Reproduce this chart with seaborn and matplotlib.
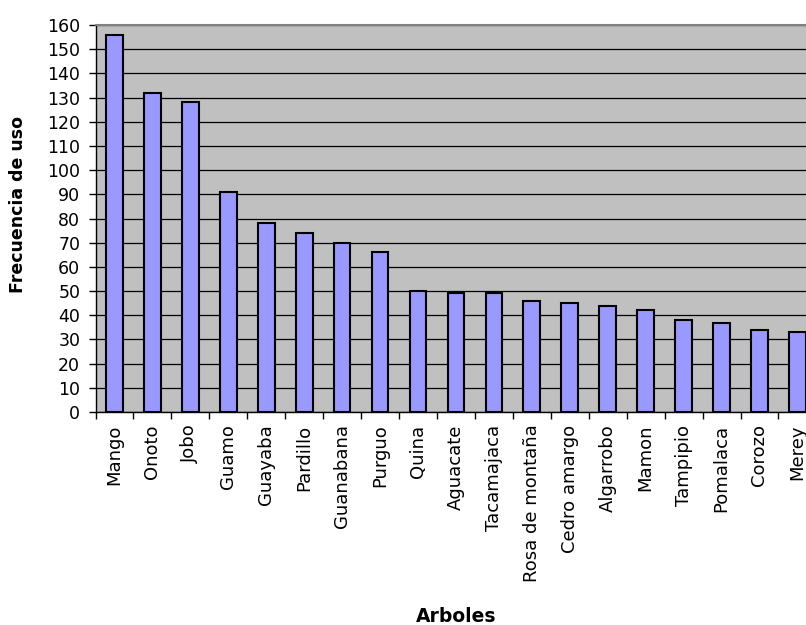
import matplotlib
matplotlib.use("Agg")
import matplotlib.pyplot as plt
import seaborn as sns
import pandas as pd

# Trees and how often each one is used
arboles = ["Mango", "Onoto", "Jobo", "Guamo", "Guayaba", "Pardillo", "Guanabana",
           "Purguo", "Quina", "Aguacate", "Tacamajaca", "Rosa de montaña",
           "Cedro amargo", "Algarrobo", "Mamon", "Tampipio", "Pomalaca",
           "Corozo", "Merey"]
frecuencia = [156, 132, 128, 91, 78, 74, 70, 66, 50, 49, 49, 46, 45, 44, 42,
              38, 37, 34, 33]
y_ticks = list(range(0, 161, 10))

df = pd.DataFrame({"Arboles": arboles, "Frecuencia de uso": frecuencia})

sns.set_theme(style="white")
plt.rcParams["font.family"] = ["DejaVu Sans"]
plt.rcParams["text.color"] = "black"
plt.rcParams["axes.labelcolor"] = "black"
plt.rcParams["xtick.color"] = "black"
plt.rcParams["ytick.color"] = "black"

fig = plt.figure(figsize=(8.06, 6.25), dpi=100)
ax = fig.add_axes([0.1185, 0.3408, 0.8944, 0.6192])
ax.set_facecolor("#C0C0C0")
ax.set_axisbelow(True)

sns.barplot(data=df, x="Arboles", y="Frecuencia de uso", color="#9999FF",
            saturation=1, width=0.44, edgecolor="black", linewidth=1.5, ax=ax)

ax.set_ylim(0, 160)
ax.set_xlim(-0.5, len(arboles) - 0.5)
ax.set_yticks(y_ticks)
ax.set_yticklabels([str(v) for v in y_ticks])
ax.yaxis.grid(True, color="black", linewidth=0.9)
ax.xaxis.grid(False)

# tick marks between categories on the x axis
ax.set_xticks(range(len(arboles)))
ax.set_xticklabels(arboles, rotation=90, ha="center", va="top", fontsize=13)
ax.set_xticks([i - 0.5 for i in range(len(arboles) + 1)], minor=True)
ax.tick_params(axis="x", which="major", length=0, pad=9, labelcolor="black")
ax.tick_params(axis="x", which="minor", length=5, width=1, color="black",
               direction="out", bottom=True)
ax.tick_params(axis="y", length=5, width=1, color="black", direction="out",
               left=True, pad=6, labelsize=12.5, labelcolor="black")

for side in ["left", "bottom"]:
    ax.spines[side].set_color("black")
    ax.spines[side].set_linewidth(1)
ax.spines["top"].set_color("#808080")
ax.spines["top"].set_linewidth(1.5)
ax.spines["right"].set_visible(False)

ax.set_ylabel("Frecuencia de uso", fontsize=12.5, fontweight="bold",
              va="center", ha="center", color="black")
ax.yaxis.set_label_coords(-0.1075, 0.536)
ax.set_xlabel("Arboles", fontsize=13.5, fontweight="bold", va="center",
              ha="center", color="black")
ax.xaxis.set_label_coords(0.5, -0.528)

fig.savefig("out.png", dpi=100, facecolor="white")
